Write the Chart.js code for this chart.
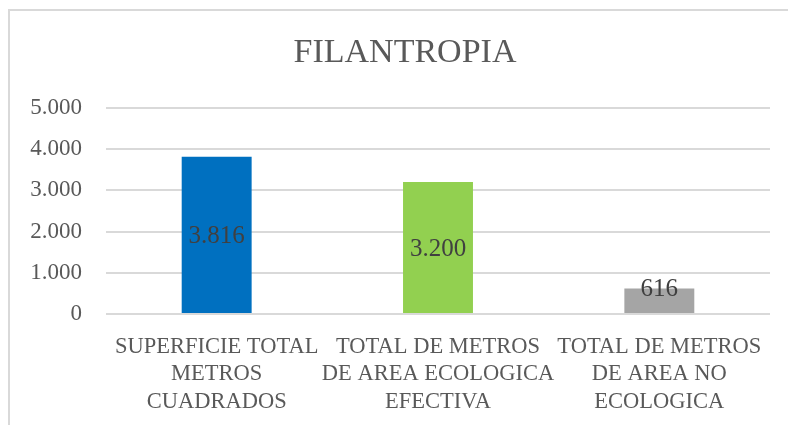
<!DOCTYPE html>
<html>
<head>
<meta charset="utf-8">
<script src="https://cdn.jsdelivr.net/npm/chart.js@4"></script>
<style>
    html, body { margin: 0; padding: 0; background: #fff; overflow: hidden; }
    #wrap { position: relative; width: 788px; height: 425px; }
    #frame { position: absolute; left: 8px; top: 9px; width: 900px; height: 500px;
             border-left: 2px solid #d9d9d9; border-top: 2px solid #d9d9d9; pointer-events: none; }
</style>
</head>
<body>
<div id="wrap">
    <canvas id="myChart" width="788" height="425"></canvas>
    <div id="frame"></div>
</div>
<script>
var categories = [
    ['SUPERFICIE TOTAL', 'METROS', 'CUADRADOS'],
    ['TOTAL DE METROS', 'DE AREA ECOLOGICA', 'EFECTIVA'],
    ['TOTAL DE METROS', 'DE AREA NO', 'ECOLOGICA']
];
var values = [3816, 3200, 616];
var barColors = ['#0070C0', '#92D050', '#A5A5A5'];
var yTicks = [0, 1000, 2000, 3000, 4000, 5000];

function fmt(v) {
    return String(v).replace(/\B(?=(\d{3})+(?!\d))/g, '.');
}

var FONT = "'Liberation Serif', 'DejaVu Serif', serif";

// labels in the middle of each bar
var barLabels = {
    id: 'barLabels',
    afterLayout: function(chart) {
        // the frame of the original chart runs past the right edge, so the title sits right of the middle
        if (chart.titleBlock) {
            chart.titleBlock.left = 22;
            chart.titleBlock.right = 788;
        }
    },
    afterDatasetsDraw: function(chart) {
        var ctx = chart.ctx;
        var meta = chart.getDatasetMeta(0);
        ctx.save();
        ctx.font = '25px ' + FONT;
        ctx.fillStyle = '#404040';
        ctx.textAlign = 'center';
        ctx.textBaseline = 'middle';
        meta.data.forEach(function(bar, i) {
            var y = Math.min((bar.y + bar.base) / 2 + 2, bar.base - 24);
            ctx.fillText(fmt(values[i]), bar.x, y);
        });
        ctx.restore();
    }
};

new Chart('myChart', {
    type: 'bar',
    data: {
        labels: categories,
        datasets: [{
            data: values,
            backgroundColor: barColors,
            categoryPercentage: 1,
            barPercentage: 0.316
        }]
    },
    options: {
        responsive: false,
        animation: false,
        layout: { padding: { left: 0, right: 18, top: 10, bottom: 0 } },
        plugins: {
            legend: { display: false },
            tooltip: { enabled: false },
            title: {
                display: true,
                text: 'FILANTROPIA',
                color: '#595959',
                font: { family: FONT, size: 34, weight: 'normal' },
                padding: { top: 23, bottom: 34 }
            }
        },
        scales: {
            x: {
                afterFit: function(scale) { scale.height = 111; },
                grid: { display: false, drawTicks: false },
                border: { display: false },
                ticks: {
                    color: '#595959',
                    font: { family: FONT, size: 22.5, lineHeight: 1.22 },
                    padding: 19,
                    maxRotation: 0,
                    autoSkip: false
                }
            },
            y: {
                min: 0,
                max: 5000,
                afterBuildTicks: function(scale) {
                    scale.ticks = yTicks.map(function(v) { return { value: v }; });
                },
                afterFit: function(scale) { scale.width = 106; },
                grid: { color: '#d9d9d9', lineWidth: 2, drawTicks: false },
                border: { display: false },
                ticks: {
                    color: '#595959',
                    font: { family: FONT, size: 23 },
                    padding: 24,
                    callback: function(v) { return fmt(v); }
                }
            }
        }
    },
    plugins: [barLabels]
});
</script>
</body>
</html>
